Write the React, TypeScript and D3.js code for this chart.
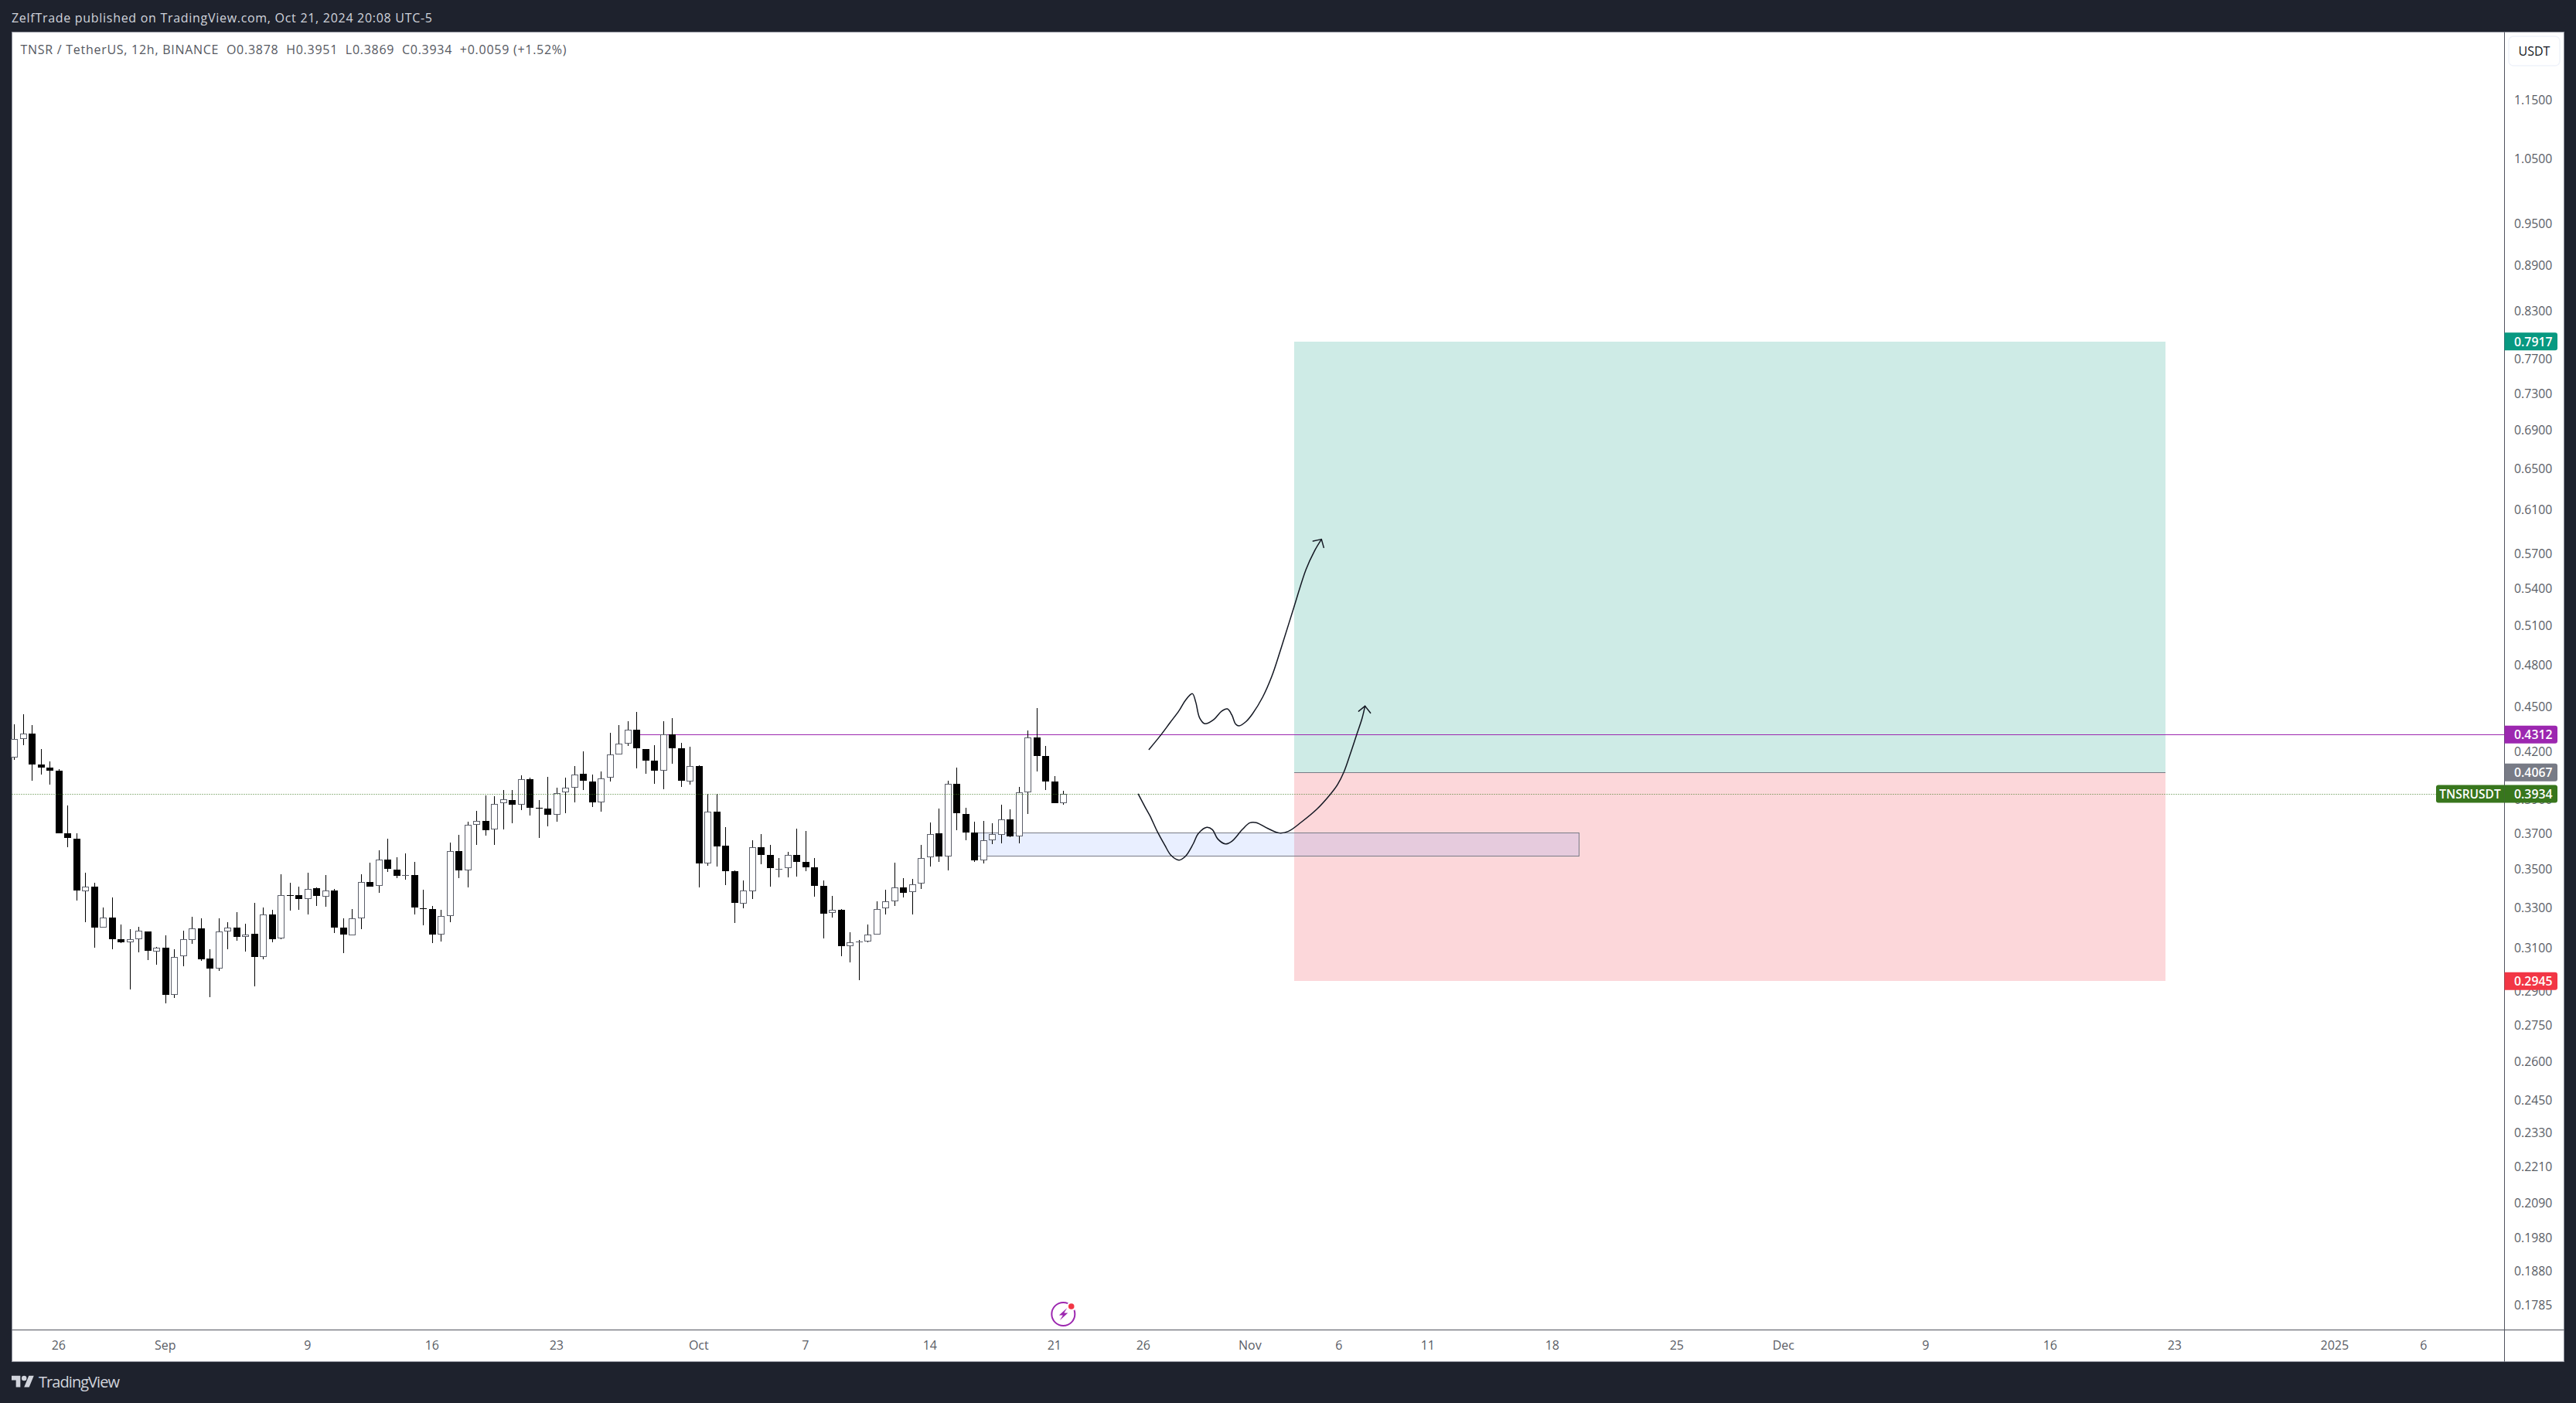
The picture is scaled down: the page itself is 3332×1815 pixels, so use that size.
import * as d3 from 'd3';

const WIDTH = 3332;
const HEIGHT = 1815;

// 12h candles, first one is Aug 23 2024 12:00 UTC
const START = Date.UTC(2024, 7, 23, 12);
const BAR_MS = 12 * 3600 * 1000;

const opens = [
  .4161, .4283, .4318, .4117, .4097, .4078, .3701, .3671, .3384, .3408,
  .3199, .3249, .3143, .3128, .3143, .3182, .3083, .3102, .2883, .3061,
  .3139, .3195, .3050, .3003, .3180, .3199, .3153, .3169, .3058, .3265,
  .3146, .3364, .3364, .3344, .3400, .3356, .3388, .3199, .3161, .3246,
  .3433, .3412, .3555, .3500, .3469, .3470, .3298, .3293, .3165, .3257,
  .3601, .3495, .3750, .3772, .3724, .3878, .3896, .3869, .4024, .3852,
  .3846, .3809, .3943, .3972, .4058, .4010, .3882, .4034, .4181, .4251,
  .4344, .4217, .4142, .4078, .4313, .4222, .4010, .4107, .3533, .3827,
  .3631, .3491, .3320, .3384, .3622, .3580, .3500, .3508, .3580, .3542,
  .3512, .3412, .3273, .3289, .3109, .3128, .3131, .3165, .3296, .3332,
  .3404, .3380, .3425, .3567, .3701, .3571, .3995, .3814, .3706, .3550,
  .3662, .3693, .3782, .3684, .3943, .4293, .4171, .4010, .3878,
];
const highs = [
  .4382, .4451, .4375, .4218, .4137, .4088, .3866, .3701, .3484, .3430,
  .3302, .3353, .3216, .3193, .3204, .3182, .3105, .3163, .3095, .3185,
  .3255, .3247, .3095, .3247, .3228, .3278, .3219, .3322, .3302, .3290,
  .3476, .3430, .3410, .3484, .3406, .3468, .3396, .3247, .3294, .3476,
  .3539, .3607, .3672, .3568, .3586, .3543, .3394, .3310, .3290, .3650,
  .3694, .3769, .3833, .3925, .3921, .3959, .3959, .4050, .4036, .3898,
  .4041, .3973, .4036, .4109, .4203, .4055, .4075, .4325, .4377, .4403,
  .4467, .4218, .4239, .4403, .4424, .4259, .4229, .4114, .3934, .3934,
  .3738, .3497, .3443, .3663, .3698, .3637, .3564, .3598, .3730, .3716,
  .3564, .3443, .3358, .3294, .3178, .3140, .3216, .3333, .3394, .3539,
  .3455, .3451, .3637, .3765, .3847, .4013, .4099, .3852, .3769, .3774,
  .3761, .3870, .3842, .3978, .4340, .4494, .4234, .4045, .3951,
];
const lows = [
  .4145, .4240, .4013, .4052, .3989, .3700, .3621, .3335, .3225, .3100,
  .3199, .3093, .3123, .2909, .3078, .3042, .3020, .2845, .2868, .3013,
  .3119, .3039, .2872, .2991, .3093, .3134, .3082, .2921, .3045, .3126,
  .3141, .3283, .3287, .3264, .3307, .3303, .3171, .3075, .3161, .3190,
  .3407, .3375, .3486, .3452, .3444, .3264, .3209, .3123, .3130, .3225,
  .3452, .3403, .3634, .3687, .3634, .3722, .3758, .3835, .3803, .3674,
  .3740, .3767, .3817, .3881, .3956, .3857, .3826, .4008, .4181, .4235,
  .4091, .4057, .3994, .3960, .4120, .3975, .3989, .3403, .3519, .3515,
  .3415, .3221, .3295, .3343, .3528, .3407, .3457, .3457, .3461, .3490,
  .3355, .3145, .3248, .3060, .3031, .2948, .3126, .3165, .3264, .3307,
  .3351, .3264, .3395, .3515, .3540, .3494, .3718, .3660, .3540, .3532,
  .3639, .3643, .3678, .3643, .3812, .4071, .3956, .3876, .3869,
];
const closes = [
  .4283, .4318, .4117, .4096, .4076, .3700, .3674, .3387, .3408, .3198,
  .3249, .3141, .3126, .3143, .3184, .3086, .3100, .2882, .3058, .3143,
  .3195, .3045, .3002, .3180, .3199, .3152, .3165, .3056, .3265, .3141,
  .3364, .3363, .3343, .3396, .3359, .3388, .3198, .3164, .3246, .3433,
  .3407, .3555, .3502, .3465, .3470, .3299, .3293, .3164, .3257, .3601,
  .3494, .3750, .3772, .3718, .3872, .3901, .3867, .4024, .3849, .3849,
  .3808, .3938, .3972, .4053, .4013, .3881, .4029, .4181, .4251, .4344,
  .4220, .4140, .4076, .4313, .4220, .4013, .4107, .3532, .3827, .3625,
  .3490, .3323, .3388, .3622, .3578, .3507, .3502, .3580, .3540, .3511,
  .3411, .3268, .3289, .3108, .3126, .3131, .3165, .3293, .3332, .3404,
  .3375, .3421, .3563, .3697, .3570, .3995, .3817, .3704, .3549, .3662,
  .3697, .3782, .3682, .3942, .4293, .4170, .4008, .3876, .3934,
];

const priceTicks = [
  1.15, 1.05, 0.95, 0.89, 0.83, 0.77, 0.73, 0.69, 0.65, 0.61, 0.57, 0.54, 0.51, 0.48, 0.45,
  0.42, 0.39, 0.37, 0.35, 0.33, 0.31, 0.29, 0.275, 0.26, 0.245, 0.233, 0.221, 0.209, 0.198, 0.188, 0.1785,
];

const dateTicks: [string, string][] = [
  ['2024-08-26', '26'], ['2024-09-01', 'Sep'], ['2024-09-09', '9'], ['2024-09-16', '16'], ['2024-09-23', '23'],
  ['2024-10-01', 'Oct'], ['2024-10-07', '7'], ['2024-10-14', '14'], ['2024-10-21', '21'], ['2024-10-26', '26'],
  ['2024-11-01', 'Nov'], ['2024-11-06', '6'], ['2024-11-11', '11'], ['2024-11-18', '18'], ['2024-11-25', '25'],
  ['2024-12-01', 'Dec'], ['2024-12-09', '9'], ['2024-12-16', '16'], ['2024-12-23', '23'],
  ['2025-01-01', '2025'], ['2025-01-06', '6'],
];

// long position tool and the drawn levels
const TARGET = 0.7917;
const ENTRY = 0.4067;
const STOP = 0.2945;
const LAST = 0.3934;
const RESISTANCE = 0.4312;
const ZONE_TOP = 0.3706;
const ZONE_BOTTOM = 0.3574;

const positionDates = ['2024-11-03T12:00Z', '2024-12-22T12:00Z'];
const zoneDates = ['2024-10-16T12:00Z', '2024-11-19T12:00Z'];
const resistanceStart = '2024-09-27T12:00Z';

// hand drawn brushes, as [bar number, price]
const brushUp: [number, number][] = [
  [127.65, .4214], [128.99, .4310], [130.0, .4391], [131.02, .4474], [131.74, .4546], [132.52, .4593], [132.9, .4533],
  [133.33, .4425], [133.91, .4385], [134.93, .4413], [135.8, .4470], [136.46, .4486], [136.96, .4444], [137.39, .4382],
  [137.77, .4370], [138.55, .4399], [139.28, .4452], [140.43, .4569], [141.45, .4717], [142.46, .4919], [143.91, .5242],
  [145.3, .5565], [146.23, .5723], [147.04, .5831],
];
const brushUpHead: [number, number][] = [[146.09, .5814], [147.04, .5831], [147.3, .5757]];
const brushDip: [number, number][] = [
  [126.44, .3932], [127.25, .3850], [127.74, .3804], [128.55, .3714], [129.42, .3634], [130.14, .3576], [131.02, .3551],
  [131.74, .3572], [132.61, .3641], [133.19, .3700], [134.15, .3736], [134.78, .3722], [135.36, .3670], [136.23, .3641],
  [136.96, .3656], [138.12, .3722], [138.99, .3762], [139.71, .3763], [141.01, .3729], [142.32, .3703], [143.33, .3713],
  [144.78, .3766], [146.52, .3842], [147.97, .3927], [148.84, .3990], [149.57, .4070], [150.29, .4186], [151.01, .4313],
  [151.59, .4417], [151.94, .4506],
];
const brushDipHead: [number, number][] = [[151.22, .4470], [151.94, .4506], [152.55, .4458]];

const barTime = (i: number) => new Date(START + i * BAR_MS);

const x = d3.scaleUtc().domain([barTime(0), barTime(118)]).range([18.33, 1375.33]);
const y = d3.scaleLog().domain([TARGET, STOP]).range([441.7, 1269.3]);

const brushLine = d3
  .line<[number, number]>()
  .x((d) => x(barTime(d[0])))
  .y((d) => y(d[1]))
  .curve(d3.curveCatmullRom);
const headLine = d3
  .line<[number, number]>()
  .x((d) => x(barTime(d[0])))
  .y((d) => y(d[1]));

// one pixel lines sit on the pixel row
const crispY = (price: number) => Math.round(y(price)) + 0.5;

const FONT = '"Open Sans", sans-serif';
const AXIS_X = 3239.5;
const TIME_Y = 1720.5;
const PANEL = {left: 15.5, top: 41.5, right: 3316.5, bottom: 1761.5};

function Candles() {
  return (
    <g shapeRendering="crispEdges">
      {opens.map((open, i) => {
        const close = closes[i];
        const px = Math.round(x(barTime(i)));
        const up = close >= open;
        const top = Math.round(y(Math.max(open, close)));
        const bottom = Math.round(y(Math.min(open, close)));
        const hi = Math.round(y(highs[i]));
        const lo = Math.round(y(lows[i]));
        const bodyH = bottom - top;
        return (
          <g key={i}>
            <rect x={px} y={hi} width={1} height={Math.max(lo - hi, 1)} fill="#000000" />
            {up ? (
              bodyH <= 1 ? (
                <rect x={px - 4} y={top} width={9} height={1} fill="#5d606b" />
              ) : (
                <rect x={px - 3.5} y={top + 0.5} width={8} height={bodyH - 1} fill="#ffffff" stroke="#5d606b" />
              )
            ) : (
              <rect x={px - 4} y={top} width={9} height={Math.max(bodyH, 1)} fill="#000000" />
            )}
          </g>
        );
      })}
    </g>
  );
}

function PriceLabel({price, color}: {price: number; color: string}) {
  const cy = y(price);
  return (
    <g>
      <path
        d={`M${AXIS_X},${cy - 11.5}H3305a3,3 0 0 1 3,3V${cy + 8.5}a3,3 0 0 1 -3,3H${AXIS_X}Z`}
        fill={color}
      />
      <text x={3252} y={cy} dominantBaseline="central" fontFamily={FONT} fontSize={15.8} fontWeight={600} fill="#ffffff">
        {price.toFixed(4)}
      </text>
    </g>
  );
}

export default function App() {
  const [posStart, posEnd] = positionDates.map((d) => Math.round(x(new Date(d))));
  const [zoneStart, zoneEnd] = zoneDates.map((d) => Math.round(x(new Date(d))) + 0.5);
  const eventX = x(barTime(118));
  const lastY = crispY(LAST);
  const targetTop = Math.round(y(TARGET));
  const entryRow = Math.round(y(ENTRY));
  const stopRow = Math.round(y(STOP));

  return (
    <svg
      width={WIDTH}
      height={HEIGHT}
      viewBox={`0 0 ${WIDTH} ${HEIGHT}`}
      style={{position: 'absolute', left: 0, top: 0, display: 'block'}}
    >
      <rect width={WIDTH} height={HEIGHT} fill="#1e222d" />
      <rect
        x={PANEL.left}
        y={PANEL.top}
        width={PANEL.right - PANEL.left}
        height={PANEL.bottom - PANEL.top}
        fill="#ffffff"
        stroke="#8a8d98"
      />

      <text x={15} y={23} dominantBaseline="central" fontFamily={FONT} fontSize={16} fill="#d1d4dc" textLength={544}>
        ZelfTrade published on TradingView.com, Oct 21, 2024 20:08 UTC-5
      </text>
      <text
        x={26.5}
        y={64}
        dominantBaseline="central"
        fontFamily={FONT}
        fontSize={16}
        fill="#555861"
        textLength={706}
        style={{whiteSpace: 'pre'}}
      >
        {'TNSR / TetherUS, 12h, BINANCE  O0.3878  H0.3951  L0.3869  C0.3934  +0.0059 (+1.52%)'}
      </text>

      {/* long position */}
      <rect x={posStart} y={targetTop} width={posEnd - posStart} height={entryRow - targetTop} fill="#089981" fillOpacity={0.2} />
      <rect x={posStart} y={entryRow} width={posEnd - posStart} height={stopRow - entryRow} fill="#f23645" fillOpacity={0.2} />
      <line x1={posStart} x2={posEnd} y1={crispY(ENTRY)} y2={crispY(ENTRY)} stroke="#787b86" strokeWidth={1} />

      {/* demand zone */}
      <rect
        x={zoneStart}
        y={crispY(ZONE_TOP)}
        width={zoneEnd - zoneStart}
        height={crispY(ZONE_BOTTOM) - crispY(ZONE_TOP)}
        fill="#2962ff"
        fillOpacity={0.1}
        stroke="#787b86"
        strokeWidth={1}
      />

      <line
        x1={x(new Date(resistanceStart))}
        x2={AXIS_X}
        y1={crispY(RESISTANCE)}
        y2={crispY(RESISTANCE)}
        stroke="#9c27b0"
        strokeWidth={1}
      />

      <Candles />

      <line x1={PANEL.left} x2={3151} y1={lastY} y2={lastY} stroke="#38761d" strokeWidth={1} strokeDasharray="1 2" />

      <g fill="none" stroke="#131722" strokeWidth={1.5} strokeLinecap="round" strokeLinejoin="round">
        <path d={brushLine(brushUp)!} />
        <path d={headLine(brushUpHead)!} />
        <path d={brushLine(brushDip)!} />
        <path d={headLine(brushDipHead)!} />
      </g>

      {/* event marker */}
      <g transform={`translate(${eventX},1700)`}>
        <circle r={15} fill="#ffffff" stroke="#9c27b0" strokeWidth={2} />
        <path d="M5,-8 L-5.5,1.5 L-0.5,1.5 L-4.5,8 L6,-1.5 L1,-1.5 Z" fill="#9c27b0" />
        <circle cx={10.4} cy={-10} r={6} fill="#ffffff" />
        <circle cx={10.4} cy={-10} r={3.8} fill="#f23645" />
      </g>

      {/* axes */}
      <line x1={PANEL.left} x2={PANEL.right} y1={TIME_Y} y2={TIME_Y} stroke="#50535e" />
      <line x1={AXIS_X} x2={AXIS_X} y1={PANEL.top} y2={PANEL.bottom} stroke="#50535e" />

      {priceTicks.map((p) => (
        <text key={p} x={3252} y={y(p) - 0.5} dominantBaseline="central" fontFamily={FONT} fontSize={15.8} fill="#5a5d66">
          {p.toFixed(4)}
        </text>
      ))}

      {dateTicks.map(([date, label]) => (
        <text
          key={date}
          x={x(new Date(date + 'T00:00Z'))}
          y={1739.5}
          textAnchor="middle"
          dominantBaseline="central"
          fontFamily={FONT}
          fontSize={16}
          fill="#5a5d66"
        >
          {label}
        </text>
      ))}

      <PriceLabel price={RESISTANCE} color="#9c27b0" />
      <PriceLabel price={ENTRY} color="#787b86" />
      <PriceLabel price={TARGET} color="#089981" />
      <PriceLabel price={STOP} color="#f23645" />
      <PriceLabel price={LAST} color="#38761d" />

      <path
        d={`M${AXIS_X},${y(LAST) - 11.5}H3154a3,3 0 0 0 -3,3V${y(LAST) + 8.5}a3,3 0 0 0 3,3H${AXIS_X}Z`}
        fill="#38761d"
      />
      <text x={3195} y={y(LAST)} textAnchor="middle" dominantBaseline="central" fontFamily={FONT} fontSize={15.5} fontWeight={600} fill="#ffffff">
        TNSRUSDT
      </text>

      <rect x={3245} y={47} width={66} height={38} rx={6} fill="#ffffff" stroke="#f0f3fa" strokeWidth={1.5} />
      <text x={3278} y={66} textAnchor="middle" dominantBaseline="central" fontFamily={FONT} fontSize={16} fill="#131722">
        USDT
      </text>

      {/* TradingView logo */}
      <g transform="translate(15,1776.6) scale(0.81)" fill="#d1d4dc">
        <path d="M14 22H7V11H0V4h14v18ZM28 22h-8l7.5-18h8L28 22Z" />
        <circle cx={20} cy={8} r={4} />
      </g>
      <text x={50} y={1795} fontFamily={FONT} fontSize={20} fontWeight={500} fill="#d1d4dc" textLength={105}>
        TradingView
      </text>
    </svg>
  );
}
